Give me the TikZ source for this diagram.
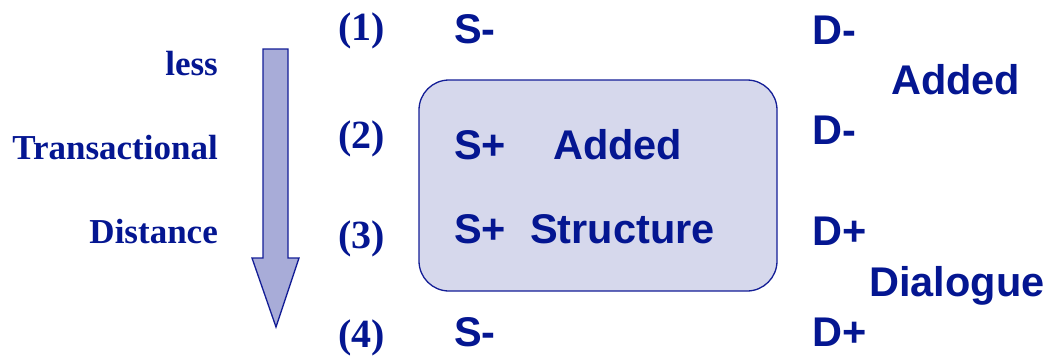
\documentclass[tikz,border=0pt]{standalone}
\usepackage{fontspec}
\setmainfont{Liberation Serif}
\setsansfont{Liberation Sans}
\definecolor{ink}{RGB}{4,22,145}
\definecolor{boxfill}{RGB}{214,216,236}
\definecolor{arrowfill}{RGB}{168,172,216}
\definecolor{edge}{RGB}{20,30,150}
\tikzset{
  serif/.style={text=ink, inner sep=0pt, font=\rmfamily\bfseries\fontsize{35}{40}\selectfont},
  num/.style={text=ink, inner sep=0pt, font=\rmfamily\bfseries\fontsize{40}{44}\selectfont},
  sans/.style={text=ink, inner sep=0pt, font=\sffamily\bfseries\fontsize{41.5}{48}\selectfont},
}
\begin{document}
\begin{tikzpicture}[x=1pt,y=-1pt]
\useasboundingbox (0,0) rectangle (1048,356);
% rounded panel
\node[draw=edge, line width=1.3pt, fill=boxfill, rounded corners=30pt,
      minimum width=358pt, minimum height=211pt, inner sep=0pt] (panel) at (598,185.5) {};
% downward block arrow
\draw[draw=edge, line width=1.3pt, fill=arrowfill, line join=miter]
  (263,49) -- (288,49) -- (288,258) -- (299,258) -- (276,327) -- (252,258) -- (263,258) -- cycle;
% left labels
\node[serif, anchor=base east] (less) at (218,75) {less};
\node[serif, anchor=base east] (trans) at (218,159) {Transactional};
\node[serif, anchor=base east] (dist) at (218,243) {Distance};
% row numbers
\node[num, anchor=base west] (n1) at (338,40) {(1)};
\node[num, anchor=base west] (n2) at (338,148) {(2)};
\node[num, anchor=base west] (n3) at (338,248) {(3)};
\node[num, anchor=base west] (n4) at (338,347) {(4)};
% structure column
\node[sans, anchor=base west] (s1) at (454,43) {S-};
\node[sans, anchor=base west] (s2) at (454,159) {S+};
\node[sans, anchor=base west] (s2t) at (553,159) {Added};
\node[sans, anchor=base west] (s3) at (454,243) {S+};
\node[sans, anchor=base west] (s3t) at (530,243) {Structure};
\node[sans, anchor=base west] (s4) at (454,346) {S-};
% dialogue column
\node[sans, anchor=base west] (d1) at (812,44) {D-};
\node[sans, anchor=base west] (dadd) at (891,94) {Added};
\node[sans, anchor=base west] (d2) at (812,144) {D-};
\node[sans, anchor=base west] (d3) at (812,245) {D+};
\node[sans, anchor=base west] (ddia) at (869,296) {Dialogue};
\node[sans, anchor=base west] (d4) at (812,346) {D+};
\end{tikzpicture}
\end{document}
